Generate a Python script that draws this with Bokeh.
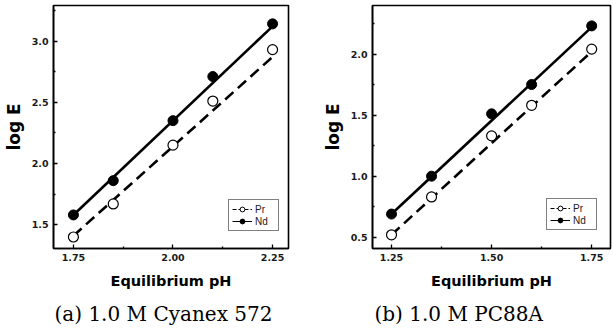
from bokeh.plotting import figure
from bokeh.layouts import row
from bokeh.models import (ColumnDataSource, FixedTicker, PrintfTickFormatter,
                          Legend, LegendItem, Title, Range1d)
from bokeh.embed import file_html
from bokeh.resources import INLINE

# ---------- data (a) 1.0 M Cyanex 572 ----------
ph_a = [1.75, 1.85, 2.00, 2.10, 2.25]
pr_a = [1.40, 1.67, 2.15, 2.51, 2.93]
nd_a = [1.58, 1.86, 2.35, 2.71, 3.14]
fit_x_a = [1.75, 2.25]
fit_pr_a = [1.41, 2.87]
fit_nd_a = [1.58, 3.12]
xticks_a = [1.75, 2.00, 2.25]
xminor_a = [1.875, 2.125]
yticks_a = [1.5, 2.0, 2.5, 3.0]
yminor_a = [1.25, 1.75, 2.25, 2.75, 3.25]

# ---------- data (b) 1.0 M PC88A ----------
ph_b = [1.25, 1.35, 1.50, 1.60, 1.75]
pr_b = [0.52, 0.83, 1.33, 1.58, 2.04]
nd_b = [0.69, 1.00, 1.51, 1.75, 2.23]
fit_x_b = [1.25, 1.75]
fit_pr_b = [0.52, 2.02]
fit_nd_b = [0.69, 2.22]
xticks_b = [1.25, 1.50, 1.75]
xminor_b = [1.375, 1.625]
yticks_b = [0.5, 1.0, 1.5, 2.0]
yminor_b = [0.75, 1.25, 1.75, 2.25]

BOLD = "DejaVu Sans"


def panel(width, xr, yr, bl, br, ph, pr, nd, fx, fpr, fnd, xt, xm, yt, ym,
          xfmt, yfmt, legend_loc, caption, cap_off):
    p = figure(width=width, height=333, output_backend="svg", toolbar_location=None,
               x_range=Range1d(*xr), y_range=Range1d(*yr),
               min_border_left=bl, min_border_right=br, min_border_top=5,
               min_border_bottom=85)
    p.grid.visible = False
    p.outline_line_color = "black"
    p.outline_line_width = 1.6
    p.background_fill_color = "white"
    p.border_fill_color = "white"

    for ax, ticks, minor, fmt in ((p.xaxis[0], xt, xm, xfmt), (p.yaxis[0], yt, ym, yfmt)):
        ax.ticker = FixedTicker(ticks=ticks, minor_ticks=minor)
        ax.formatter = PrintfTickFormatter(format=fmt)
        ax.axis_line_color = "black"
        ax.axis_line_width = 1.6
        ax.major_tick_in = 4
        ax.major_tick_out = 0
        ax.minor_tick_in = 2
        ax.minor_tick_out = 0
        ax.major_tick_line_width = 1.3
        ax.minor_tick_line_width = 1.3
        ax.major_label_text_font = BOLD
        ax.major_label_text_font_style = "bold"
        ax.major_label_text_font_size = "9.5px"
        ax.major_label_text_color = "#1a1a1a"
        ax.axis_label_text_font = BOLD
        ax.axis_label_text_font_style = "bold"
        ax.axis_label_text_color = "black"

    p.xaxis.axis_label = "Equilibrium pH"
    p.xaxis.axis_label_text_font_size = "14.5px"
    p.xaxis.major_label_standoff = 5
    p.xaxis.axis_label_standoff = 9
    p.yaxis.axis_label = "log E"
    p.yaxis.axis_label_text_font_size = "17px"
    p.yaxis.major_label_standoff = 5
    p.yaxis.axis_label_standoff = 5

    p.line(fx, fnd, line_color="black", line_width=2.6)
    p.line(fx, fpr, line_color="black", line_width=2.6, line_dash="11 6")
    p.scatter(ph, nd, size=10, marker="circle", fill_color="black", line_color="black")
    p.scatter(ph, pr, size=10, marker="circle", fill_color="white", line_color="black",
              line_width=1.2)

    # off-range dummy point so the legend can draw its glyphs
    dummy = ColumnDataSource(data=dict(x=[-100.0], y=[-100.0]))
    lpr = p.line("x", "y", source=dummy, line_color="black", line_width=1, line_dash="4 2")
    spr = p.scatter("x", "y", source=dummy, size=5, fill_color="white", line_color="black")
    lnd = p.line("x", "y", source=dummy, line_color="black", line_width=1)
    snd = p.scatter("x", "y", source=dummy, size=5, fill_color="black", line_color="black")
    leg = Legend(items=[LegendItem(label="Pr", renderers=[lpr, spr]),
                        LegendItem(label="Nd", renderers=[lnd, snd])],
                 location=legend_loc, orientation="vertical")
    leg.border_line_color = "black"
    leg.border_line_width = 1
    leg.background_fill_alpha = 1
    leg.padding = 3
    leg.spacing = 0
    leg.margin = 0
    leg.glyph_width = 20
    leg.glyph_height = 12
    leg.label_height = 12
    leg.label_standoff = 3
    leg.label_text_font = "Liberation Sans"
    leg.label_text_font_size = "10px"
    leg.label_text_color = "#1a1a1a"
    p.add_layout(leg)

    cap = Title(text=caption, align="left", offset=cap_off,
                text_font="DejaVu Serif", text_font_size="20px",
                text_font_style="normal", text_color="black", standoff=16)
    p.add_layout(cap, "below")
    return p


pa = panel(306, (1.70, 2.29), (1.306, 3.29), 52, 18, ph_a, pr_a, nd_a,
           fit_x_a, fit_pr_a, fit_nd_a, xticks_a, xminor_a, yticks_a, yminor_a,
           "%.2f", "%.1f", (175, 17), "(a) 1.0 M Cyanex 572", 1)
pb = panel(307, (1.2025, 1.797), (0.408, 2.397), 66, 3, ph_b, pr_b, nd_b,
           fit_x_b, fit_pr_b, fit_nd_b, xticks_b, xminor_b, yticks_b, yminor_b,
           "%.2f", "%.1f", (174, 18), "(b) 1.0 M PC88A", 2)

layout = row(pa, pb)
open("out.html", "w").write(file_html(layout, INLINE))
